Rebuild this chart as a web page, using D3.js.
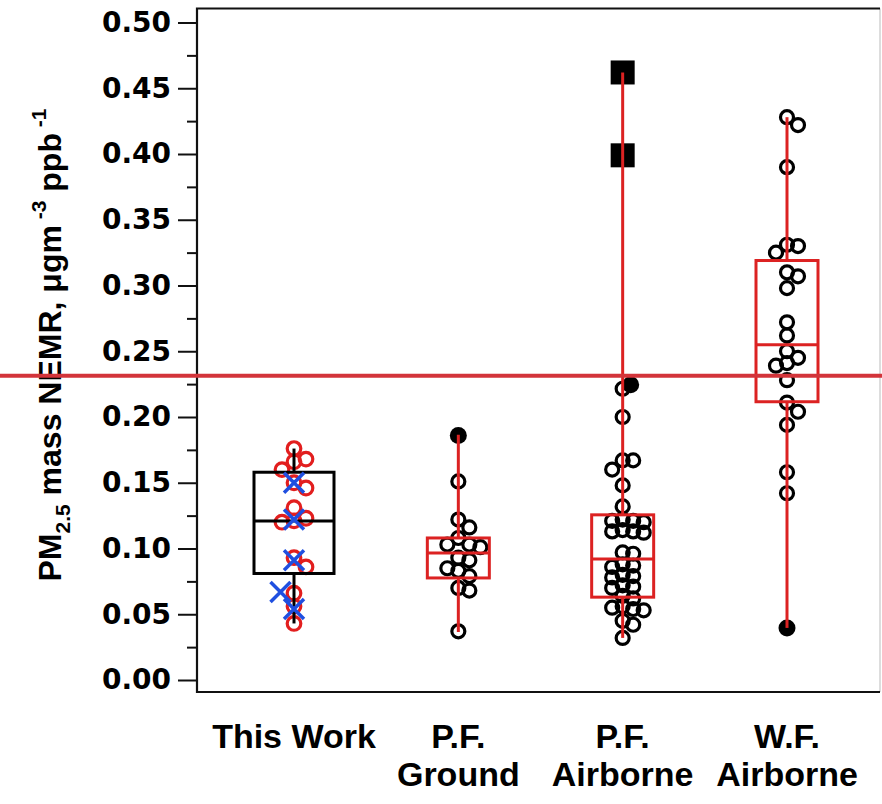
<!DOCTYPE html>
<html>
<head>
<meta charset="utf-8">
<script src="https://cdn.jsdelivr.net/npm/d3@7"></script>
<style>
  body { margin: 0; background: #fff; }
  svg { display: block; font-family: "Liberation Sans", Arial, sans-serif; font-weight: bold; }
</style>
</head>
<body>
<svg id="chart" width="882" height="804"></svg>
<script>
// categories along the x axis
const categories = ['This Work', 'P.F. Ground', 'P.F. Airborne', 'W.F. Airborne'];
const categoryLines = [['This Work'], ['P.F.', 'Ground'], ['P.F.', 'Airborne'], ['W.F.', 'Airborne']];

// box stats per category: [low whisker, q1, median, q3, high whisker]
const boxStats = [
  [0.043, 0.081, 0.121, 0.158, 0.176],
  [0.0365, 0.0776, 0.0966, 0.108, 0.1865],
  [0.032, 0.063, 0.092, 0.1256, 0.462],
  [0.0396, 0.2116, 0.255, 0.319, 0.428]
];

// individual points
const thisWorkCircles = [0.176, 0.168, 0.166, 0.160, 0.150, 0.146, 0.131, 0.123, 0.121, 0.120, 0.093, 0.086, 0.066, 0.056, 0.043];
const thisWorkCrosses = [0.150, 0.122, 0.091, 0.067, 0.054];
const pfGroundOpen = [0.151, 0.122, 0.116, 0.108, 0.103, 0.103, 0.101, 0.093, 0.091, 0.085, 0.083, 0.079, 0.070, 0.068, 0.037];
const pfGroundFilled = [0.186];
const pfAirOpen = [0.2215, 0.200, 0.167, 0.167, 0.160, 0.148, 0.132, 0.122, 0.121, 0.121, 0.120, 0.114, 0.113,
  0.113, 0.112, 0.097, 0.096, 0.088, 0.087, 0.086, 0.080, 0.079, 0.078, 0.072, 0.071, 0.070, 0.064, 0.062,
  0.056, 0.055, 0.054, 0.053, 0.045, 0.042, 0.032];
const pfAirFilled = [0.2245];
const pfAirSquares = [0.462, 0.399];
const wfAirOpen = [0.428, 0.422, 0.390, 0.331, 0.330, 0.325, 0.310, 0.307, 0.298, 0.272, 0.262, 0.250, 0.245,
  0.241, 0.239, 0.228, 0.211, 0.204, 0.194, 0.158, 0.142];
const wfAirFilled = [0.0396];

// reference line across the figure
const refLine = 0.2314;

const yTicks = d3.range(0, 0.501, 0.05);
const yMinor = d3.range(0.025, 0.5, 0.05);

const RED = '#dc2222';
const boxColors = ['#000', RED, RED, RED];
const boxWidths = [80, 62, 62, 62];

const svg = d3.select('#chart');

const x = d3.scalePoint().domain(categories).range([294, 787]);
const y = d3.scaleLinear().domain([0, 0.5]).range([680, 22.5]);

// frame
const frame = { left: 197, right: 880, top: 8.5, bottom: 692 };
svg.append('line').attr('x1', frame.right).attr('x2', frame.right)
  .attr('y1', frame.top).attr('y2', frame.bottom).attr('stroke', '#bbb').attr('stroke-width', 1);
svg.append('path')
  .attr('d', `M${frame.right},${frame.top}H${frame.left}V${frame.bottom}H${frame.right}`)
  .attr('fill', 'none').attr('stroke', '#111').attr('stroke-width', 2.2);

// y axis
const yAxis = svg.append('g')
  .attr('transform', `translate(${frame.left},0)`)
  .call(d3.axisLeft(y).tickValues(yTicks).tickSize(19).tickPadding(7).tickFormat(d3.format('.2f')));
yAxis.select('.domain').remove();
yAxis.selectAll('.tick line').attr('stroke', '#111').attr('stroke-width', 2);
yAxis.selectAll('.tick text')
  .attr('fill', '#000')
  .style('font-family', '"DejaVu Sans", sans-serif')
  .style('font-size', '28px')
  .style('font-weight', 'bold');

const yAxisMinor = svg.append('g')
  .attr('transform', `translate(${frame.left},0)`)
  .call(d3.axisLeft(y).tickValues(yMinor).tickSize(10).tickFormat(''));
yAxisMinor.select('.domain').remove();
yAxisMinor.selectAll('.tick line').attr('stroke', '#111').attr('stroke-width', 2);

// y title
const title = svg.append('text')
  .attr('transform', `translate(61,345) rotate(-90)`)
  .attr('text-anchor', 'middle')
  .style('font-size', '32px')
  .attr('fill', '#000');
title.append('tspan').text('PM');
title.append('tspan').attr('dy', 9).style('font-size', '21px').text('2.5');
title.append('tspan').attr('dy', -9).text(' mass NEMR, μgm');
title.append('tspan').attr('dy', -15).style('font-size', '21px').text(' -3');
title.append('tspan').attr('dy', 15).text('   ppb');
title.append('tspan').attr('dy', -15).style('font-size', '21px').text(' -1');

// x labels
categories.forEach((c, i) => {
  const t = svg.append('text')
    .attr('x', x(c))
    .attr('y', 748)
    .attr('text-anchor', 'middle')
    .style('font-size', '34px')
    .attr('fill', '#000');
  categoryLines[i].forEach((line, j) => {
    t.append('tspan').attr('x', x(c)).attr('dy', j === 0 ? 0 : 38).text(line);
  });
});

// simple dodge: place points in value order, shifting sideways until they don't overlap
function dodge(values, sep, ascending = false, leftFirst = false) {
  const placed = [];
  const sorted = values.slice().sort((a, b) => ascending ? a - b : b - a);
  sorted.forEach(v => {
    const py = y(v);
    for (let k = 0; k < 20; k++) {
      let sign = k % 2 ? 1 : -1;
      if (leftFirst) sign = -sign;
      const off = k === 0 ? 0 : sign * Math.ceil(k / 2) * sep;
      const ok = placed.every(p => Math.hypot(p.dx - off, p.py - py) >= sep);
      if (ok) { placed.push({ v, py, dx: off }); break; }
    }
  });
  return placed;
}

const g = svg.append('g');

function openCircles(values, cat, color, r, sep) {
  g.selectAll(null)
    .data(dodge(values, sep))
    .join('circle')
    .attr('cx', d => x(cat) + d.dx)
    .attr('cy', d => d.py)
    .attr('r', r)
    .attr('fill', 'none')
    .attr('stroke', color)
    .attr('stroke-width', 3.2);
}

openCircles(thisWorkCircles, categories[0], '#e21e1e', 6.8, 12);
openCircles(pfGroundOpen, categories[1], '#000', 6.5, 11);
openCircles(pfAirOpen, categories[2], '#000', 6.5, 10.5);
openCircles(wfAirOpen, categories[3], '#000', 6.5, 11);

[[pfGroundFilled, 1], [pfAirFilled, 2], [wfAirFilled, 3]].forEach(([vals, i]) => {
  g.selectAll(null)
    .data(vals)
    .join('circle')
    .attr('cx', x(categories[i]) + (i === 2 ? 8 : 0))
    .attr('cy', d => y(d))
    .attr('r', 8.5)
    .attr('fill', '#000');
});

g.selectAll(null)
  .data(pfAirSquares)
  .join('rect')
  .attr('x', x(categories[2]) - 12)
  .attr('y', d => y(d) - 12)
  .attr('width', 24)
  .attr('height', 24)
  .attr('fill', '#000');

// boxes and whiskers
boxStats.forEach((s, i) => {
  const cx = x(categories[i]);
  const w = boxWidths[i];
  const col = boxColors[i];
  const bg = svg.append('g').attr('stroke', col).attr('stroke-width', 3).attr('fill', 'none');
  bg.append('line').attr('x1', cx).attr('x2', cx).attr('y1', y(s[4])).attr('y2', y(s[3]));
  bg.append('line').attr('x1', cx).attr('x2', cx).attr('y1', y(s[1])).attr('y2', y(s[0]));
  bg.append('rect').attr('x', cx - w / 2).attr('y', y(s[3]))
    .attr('width', w).attr('height', y(s[1]) - y(s[3]));
  bg.append('line').attr('x1', cx - w / 2).attr('x2', cx + w / 2).attr('y1', y(s[2])).attr('y2', y(s[2]));
});

// blue crosses for this work
const xs = 10;
const crosses = svg.append('g').attr('stroke', '#1f4fe0').attr('stroke-width', 3.5);
dodge(thisWorkCrosses, 18, true, true).forEach(d => {
  const cx = x(categories[0]) + d.dx * 0.75;
  crosses.append('path')
    .attr('d', `M${cx - xs},${d.py - xs}L${cx + xs},${d.py + xs}M${cx - xs},${d.py + xs}L${cx + xs},${d.py - xs}`);
});

// reference line across the whole figure
svg.append('line')
  .attr('x1', 0).attr('x2', 882)
  .attr('y1', y(refLine)).attr('y2', y(refLine))
  .attr('stroke', '#d3343a').attr('stroke-width', 4);
</script>
</body>
</html>
